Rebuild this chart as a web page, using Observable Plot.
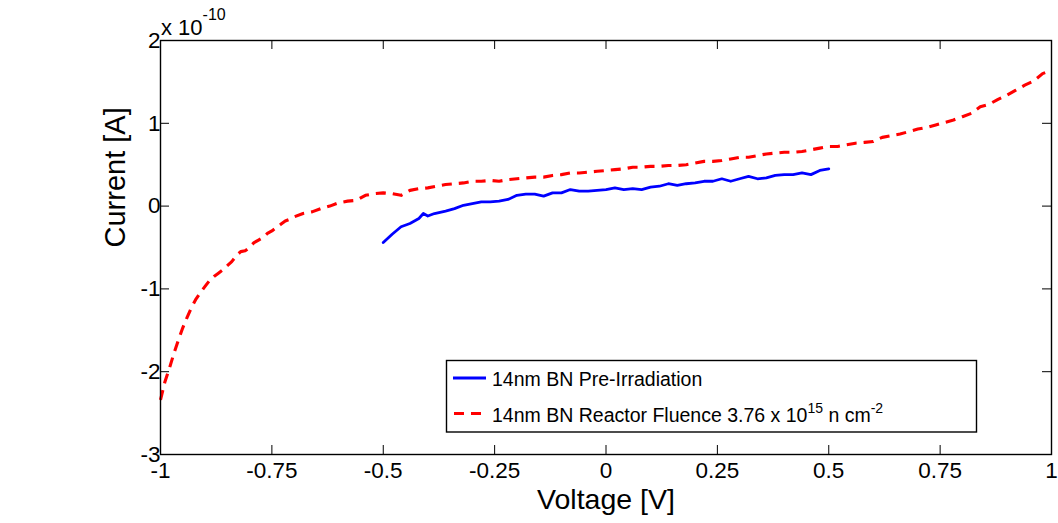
<!DOCTYPE html>
<html><head><meta charset="utf-8">
<script src="https://cdn.jsdelivr.net/npm/d3@7"></script>
<script src="https://cdn.jsdelivr.net/npm/@observablehq/plot@0.6"></script>
<style>body{margin:0;background:#fff} #chart{width:1058px;height:523px}</style>
</head><body><div id="chart"></div>
<script>
// Current values in units of 1e-10 A
const preVoltage = [-0.50,-0.48,-0.46,-0.44,-0.42,-0.41,-0.40,-0.385,-0.36,-0.34,-0.32,-0.30,-0.28,-0.26,-0.24,-0.22,-0.20,-0.18,-0.16,-0.14,-0.12,-0.10,-0.08,-0.06,-0.04,-0.02,0.00,0.02,0.04,0.06,0.08,0.10,0.12,0.14,0.16,0.18,0.20,0.22,0.24,0.26,0.28,0.30,0.32,0.34,0.36,0.38,0.40,0.42,0.44,0.46,0.48,0.50];
const preCurrent = [-0.44,-0.34,-0.25,-0.21,-0.15,-0.09,-0.12,-0.09,-0.06,-0.03,0.01,0.03,0.05,0.05,0.06,0.08,0.13,0.145,0.145,0.12,0.16,0.16,0.20,0.18,0.18,0.19,0.20,0.22,0.20,0.21,0.20,0.23,0.24,0.27,0.25,0.27,0.28,0.30,0.30,0.33,0.30,0.33,0.36,0.33,0.34,0.37,0.38,0.38,0.40,0.38,0.43,0.45];

const irrVoltage = [-1.00,-0.99,-0.98,-0.97,-0.96,-0.95,-0.94,-0.93,-0.92,-0.91,-0.90,-0.89,-0.88,-0.87,-0.86,-0.85,-0.84,-0.83,-0.82,-0.81,-0.80,-0.79,-0.78,-0.77,-0.76,-0.75,-0.74,-0.73,-0.72,-0.71,-0.70,-0.68,-0.66,-0.64,-0.62,-0.60,-0.58,-0.56,-0.54,-0.52,-0.50,-0.48,-0.46,-0.44,-0.42,-0.40,-0.38,-0.36,-0.34,-0.32,-0.30,-0.28,-0.26,-0.24,-0.22,-0.20,-0.18,-0.16,-0.14,-0.12,-0.10,-0.08,-0.06,-0.04,-0.02,0.00,0.02,0.04,0.06,0.08,0.10,0.12,0.14,0.16,0.18,0.20,0.22,0.24,0.26,0.28,0.30,0.32,0.34,0.36,0.38,0.40,0.42,0.44,0.46,0.48,0.50,0.52,0.54,0.56,0.58,0.60,0.62,0.64,0.66,0.68,0.70,0.72,0.74,0.76,0.78,0.80,0.82,0.84,0.86,0.88,0.90,0.92,0.94,0.96,0.98,0.99];
const irrCurrent = [-2.34,-2.12,-1.96,-1.78,-1.62,-1.47,-1.34,-1.22,-1.12,-1.04,-0.97,-0.90,-0.85,-0.81,-0.77,-0.72,-0.67,-0.60,-0.55,-0.54,-0.50,-0.44,-0.41,-0.38,-0.33,-0.30,-0.26,-0.22,-0.18,-0.16,-0.13,-0.09,-0.07,-0.03,0.00,0.04,0.06,0.07,0.13,0.15,0.16,0.15,0.13,0.19,0.21,0.22,0.24,0.26,0.27,0.28,0.30,0.30,0.31,0.30,0.32,0.33,0.34,0.35,0.35,0.37,0.38,0.40,0.40,0.41,0.42,0.43,0.44,0.45,0.47,0.47,0.48,0.48,0.49,0.49,0.50,0.52,0.54,0.54,0.55,0.57,0.59,0.59,0.61,0.63,0.64,0.65,0.65,0.66,0.68,0.70,0.72,0.72,0.74,0.76,0.77,0.78,0.83,0.85,0.87,0.90,0.93,0.95,0.98,1.01,1.04,1.08,1.12,1.20,1.23,1.29,1.34,1.40,1.46,1.51,1.60,1.62];

const xTicks = [-1,-0.75,-0.5,-0.25,0,0.25,0.5,0.75,1];
const yTicks = [-3,-2,-1,0,1,2];
const xLabel = "Voltage [V]";
const yLabel = "Current [A]";
const yExponent = "-10";
const legendPre = "14nm BN Pre-Irradiation";
const legendIrr = ["14nm BN Reactor Fluence 3.76 x 10", "15", " n cm", "-2"];

const pre = preVoltage.map((v, k) => ({v, i: preCurrent[k]}));
const irr = irrVoltage.map((v, k) => ({v, i: irrCurrent[k]}));

const FONT = "'Liberation Sans', Arial, Helvetica, sans-serif";
const W = 1058, H = 523, mL = 160, mR = 7, mT = 40, mB = 69;
const innerW = W - mL - mR, innerH = H - mT - mB;
const tickLen = 9;

const chart = Plot.plot({
  width: W, height: H,
  marginLeft: mL, marginRight: mR, marginTop: mT, marginBottom: mB,
  style: {fontFamily: FONT, background: "white", color: "black"},
  x: {domain: [-1, 1], label: null},
  y: {domain: [-3, 2], label: null},
  marks: [
    Plot.line(irr, {x: "v", y: "i", stroke: "#ff0000", strokeWidth: 3.1, strokeDasharray: "10,7", strokeLinecap: "butt", strokeLinejoin: "round"}),
    Plot.line(pre, {x: "v", y: "i", stroke: "#0000ff", strokeWidth: 2.8, strokeLinejoin: "round"}),
    Plot.tickX(xTicks, {x: d => d, insetTop: innerH - tickLen, stroke: "black", strokeWidth: 1}),
    Plot.tickX(xTicks, {x: d => d, insetBottom: innerH - tickLen, stroke: "black", strokeWidth: 1}),
    Plot.tickY(yTicks, {y: d => d, insetRight: innerW - tickLen, stroke: "black", strokeWidth: 1}),
    Plot.tickY(yTicks, {y: d => d, insetLeft: innerW - tickLen, stroke: "black", strokeWidth: 1}),
    Plot.frame({stroke: "black", strokeWidth: 1.4}),
    Plot.axisX({ticks: xTicks, tickSize: 0, tickPadding: 8, tickFormat: d => String(d), fontSize: 22.5, label: null}),
    Plot.axisY({ticks: yTicks, tickSize: 0, tickPadding: 0, tickFormat: d => String(d), fontSize: 22.5, label: null}),
    Plot.text([xLabel], {text: d => d, frameAnchor: "bottom", dy: 54, fontSize: 28.5}),
    Plot.text([yLabel], {text: d => d, frameAnchor: "left", dx: -45, rotate: -90, fontSize: 29})
  ]
});
document.getElementById("chart").append(chart);

const svg = d3.select(chart);
// exponent label
const ex = svg.append("text").attr("x", 161).attr("y", 35).attr("text-anchor", "start")
  .attr("font-family", FONT).attr("font-size", 22).attr("fill", "black");
ex.append("tspan").text("x 10");
ex.append("tspan").attr("font-size", 16).attr("dy", -15).text(yExponent);

// legend
const lg = svg.append("g").attr("font-family", FONT).attr("font-size", 19.5).attr("text-anchor", "start");
lg.append("rect").attr("x", 446.5).attr("y", 360.5).attr("width", 530).attr("height", 71.5)
  .attr("fill", "white").attr("stroke", "black").attr("stroke-width", 1.4);
lg.append("line").attr("x1", 453).attr("x2", 486).attr("y1", 378).attr("y2", 378)
  .attr("stroke", "#0000ff").attr("stroke-width", 2.8);
lg.append("text").attr("x", 492).attr("y", 386).text(legendPre);
lg.append("line").attr("x1", 454).attr("x2", 486).attr("y1", 413.5).attr("y2", 413.5)
  .attr("stroke", "#ff0000").attr("stroke-width", 3.1).attr("stroke-dasharray", "10,7");
const t2 = lg.append("text").attr("x", 492).attr("y", 422);
t2.append("tspan").text(legendIrr[0]);
t2.append("tspan").attr("font-size", 14).attr("dy", -9).text(legendIrr[1]);
t2.append("tspan").attr("dy", 9).text(legendIrr[2]);
t2.append("tspan").attr("font-size", 14).attr("dy", -9).text(legendIrr[3]);
</script>
</body></html>
